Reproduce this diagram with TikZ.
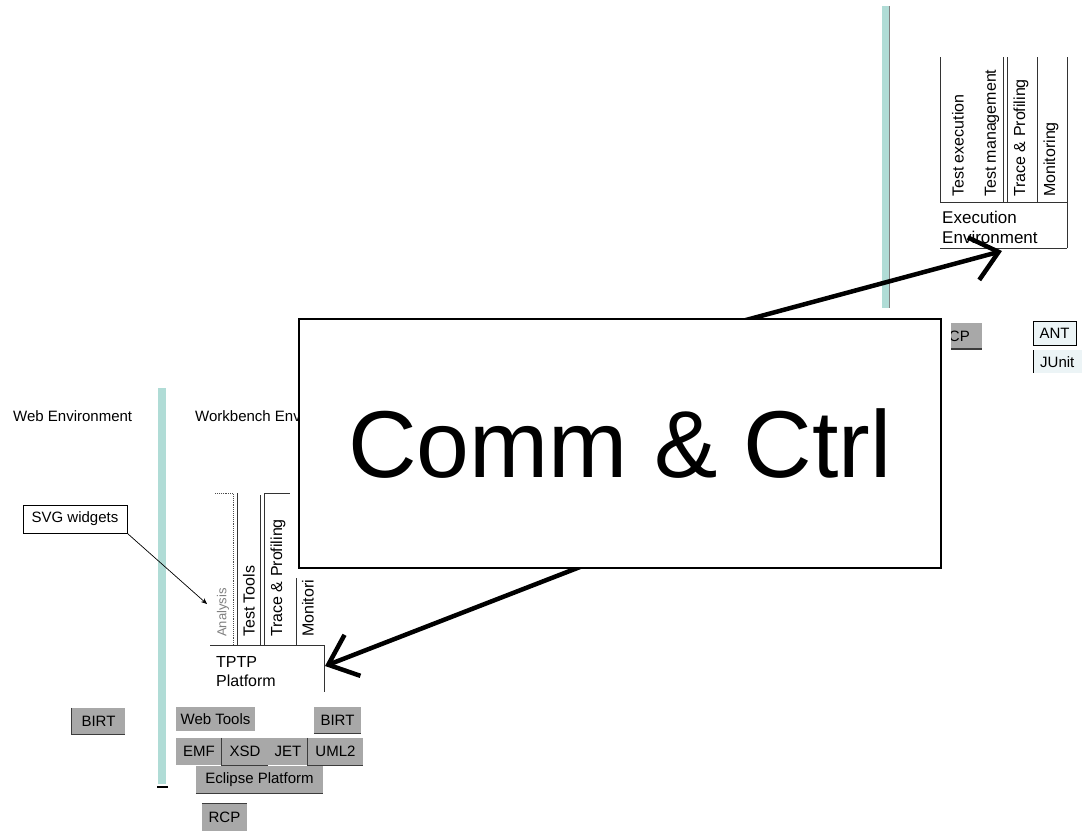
\documentclass[tikz,border=0pt]{standalone}
\usepackage{fontspec}
\setmainfont{Liberation Sans}
\usetikzlibrary{arrows.meta}
\definecolor{tealbar}{RGB}{176,220,214}
\definecolor{boxgray}{RGB}{168,168,168}
\definecolor{paleblue}{RGB}{236,244,246}
\definecolor{edge}{RGB}{60,60,60}
\begin{document}
\begin{tikzpicture}[x=1pt,y=-1pt,
  fs/.style={font=\fontsize{#1}{#1}\selectfont},
  lbl/.style={inner sep=0pt, fs=15},
  vtext/.style={rotate=90, anchor=west, inner sep=0pt, fs=16},
  graybox/.style={fill=boxgray, inner sep=0pt, fs=15, minimum height=26},
  rule/.style={line width=0.8pt, black!80},
  darkedge/.style={line width=1.2pt, edge},
  bigarrow/.style={line width=4.5pt, -{Straight Barb[length=26pt,width=44pt]}},
  thinarrow/.style={line width=0.7pt, -{Stealth[length=6pt,width=5pt]}}
]
\useasboundingbox (0,0) rectangle (1082,831);
\fill[white] (0,0) rectangle (1082,831);

% ---------- separator bars ----------
\fill[tealbar] (882,6) rectangle (889,308);
\draw[gray, line width=0.8pt] (889.5,6) -- (889.5,308);
\fill[tealbar] (158,388) rectangle (166,784);
\draw[black, line width=1.2pt] (157,787) -- (168,787);

% ---------- execution environment stack ----------
\draw[rule] (940,57) -- (940,202);
\draw[rule] (1003,57) -- (1003,202);
\draw[rule] (1007,57) -- (1007,202);
\draw[rule] (1037,57) -- (1037,202);
\draw[rule] (1067,57) -- (1067,248);
\draw[rule] (940,202) -- (1067,202);
\draw[rule] (940,248) -- (1067,248);
\node[vtext] (texec) at (958,197) {Test execution};
\node[vtext] (tmgmt) at (992,197) {Test management};
\node[vtext] (traceR) at (1021,197) {Trace \& Profiling};
\node[vtext] (monR) at (1051,197) {Monitoring};
\node[anchor=base west, inner sep=0pt, fs=17] (exec1) at (942,223) {Execution};
\node[anchor=base west, inner sep=0pt, fs=17] (exec2) at (942,243) {Environment};

% ---------- tools to the right ----------
\fill[boxgray] (951,323) rectangle (982,349);
\begin{scope}
  \clip (951,323) rectangle (982,349);
  \node[anchor=east, lbl] (cpbox) at (970,336) {CP};
\end{scope}
\draw[darkedge] (951,349) -- (982,349);
\node[draw=black, line width=1pt, fill=paleblue, minimum width=43, minimum height=24, lbl] (ant) at (1054.5,333) {ANT};
\fill[paleblue] (1033,350) rectangle (1082,373);
\draw[line width=1pt] (1033,350) -- (1033,373);
\node[anchor=west, lbl] (junit) at (1040,362) {JUnit};

% ---------- environment titles ----------
\node[anchor=base west, lbl] (webenv) at (13,421) {Web Environment};
\node[anchor=base west, lbl] (wbenv) at (195,421) {Workbench Environment};

% ---------- SVG widgets ----------
\node[draw, line width=0.8pt, minimum width=104, minimum height=28, lbl] (svg) at (75,519) {SVG widgets};
\coordinate (svgTip) at (207,604);
\draw[thinarrow] (svg.south east) -- (svgTip);

% ---------- TPTP platform stack ----------
\draw[black!70, line width=0.9pt, densely dotted] (215,493) -- (233,493) -- (233,645);
\draw[rule] (237,493) -- (237,645);
\draw[rule] (260,495) -- (260,645);
\draw[rule] (264,645) -- (264,493) -- (290,493);
\draw[rule] (296,578) -- (296,645);
\draw[rule] (210,645) -- (324,645) -- (324,692);
\node[vtext, fs=13, text=gray] (analysis) at (223,637) {Analysis};
\node[vtext] (ttools) at (249,637) {Test Tools};
\node[vtext] (traceL) at (278,637) {Trace \& Profiling};
\node[vtext] (monL) at (308,637) {Monitori};
\node[anchor=base west, inner sep=0pt, fs=16] (tptp1) at (216,667) {TPTP};
\node[anchor=base west, inner sep=0pt, fs=16] (tptp2) at (216,686) {Platform};

% ---------- base components ----------
\node[graybox, minimum width=53] (birtL) at (98.5,721) {BIRT};
\draw[darkedge] (birtL.north west) -- (birtL.south west) -- (birtL.south east);
\node[graybox, minimum width=79, minimum height=24] (webtools) at (215.5,719) {Web Tools};
\node[graybox, minimum width=47] (birtR) at (337.5,720) {BIRT};
\draw[darkedge] (birtR.south west) -- (birtR.south east);
\node[graybox, minimum width=46, minimum height=27] (emf) at (199,751.5) {EMF};
\node[graybox, minimum width=46, minimum height=27] (xsd) at (245,751.5) {XSD};
\draw[darkedge] (xsd.north west) -- (xsd.south west) -- (xsd.south east);
\node[graybox, minimum width=40, minimum height=27] (jet) at (288,751.5) {JET};
\node[graybox, minimum width=55, minimum height=27] (uml) at (335.5,751.5) {UML2};
\draw[darkedge] (uml.north west) -- (uml.south west) -- (uml.south east);
\node[graybox, minimum width=127, minimum height=27] (eclipse) at (259.5,779.5) {Eclipse Platform};
\draw[darkedge] (eclipse.south west) -- (eclipse.south east);
\node[graybox, minimum width=45, minimum height=27] (rcp) at (224.5,817.5) {RCP};
\draw[darkedge] (rcp.north west) -- (rcp.north east);

% ---------- communication arrows ----------
\coordinate (upStart) at (720,327);
\coordinate (upTip) at (1002,251);
\coordinate (loStart) at (598,560);
\coordinate (loTip) at (325,666);
\draw[bigarrow] (upStart) -- (upTip);
\draw[bigarrow] (loStart) -- (loTip);

% ---------- communication & control ----------
\node[draw, line width=1.2pt, fill=white, minimum width=642, minimum height=249, inner sep=0pt,
      font=\fontsize{95}{95}\selectfont] (comm) at (620,443.5) {Comm \& Ctrl};
\end{tikzpicture}
\end{document}
